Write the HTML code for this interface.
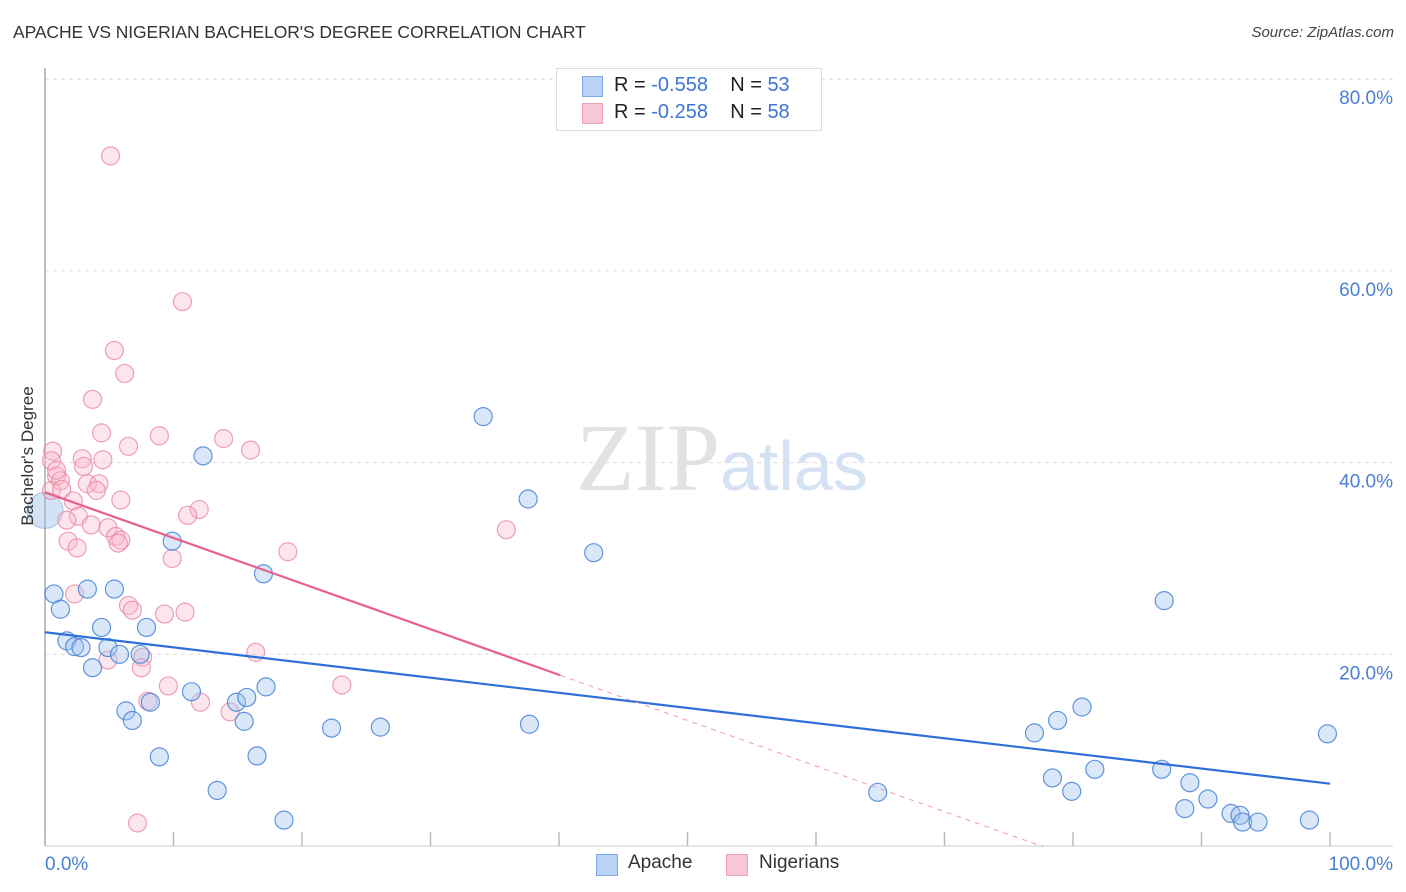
<!DOCTYPE html>
<html><head><meta charset="utf-8"><style>
body{margin:0;background:#fff;font-family:"Liberation Sans",sans-serif;}
#wrap{position:relative;width:1406px;height:892px;overflow:hidden;}
.t{position:absolute;white-space:nowrap;}
</style></head><body><div id="wrap">
<div class="t" style="left:13px;top:22px;font-size:17.5px;color:#333;letter-spacing:-0.1px">APACHE VS NIGERIAN BACHELOR'S DEGREE CORRELATION CHART</div>
<div class="t" style="right:12px;top:24px;font-size:15px;color:#444;font-style:italic">Source: ZipAtlas.com</div>
<svg id="svg" width="1406" height="892" style="position:absolute;left:0;top:0">
<text x="720" y="490" text-anchor="end" font-family="Liberation Serif" font-size="96" fill="#e2e2e2">ZIP</text>
<text x="720" y="490" font-family="Liberation Sans" font-size="70" fill="#d4e2f4">atlas</text>
</svg>
<div class="t" style="left:28px;top:456px;transform:translate(-50%,-50%) rotate(-90deg);font-size:17px;color:#333">Bachelor's Degree</div>
<div style="position:absolute;left:556px;top:68px;width:264px;height:61px;border:1px solid #ddd;background:#fff;font-size:20px">
<div style="position:absolute;left:25px;top:7px;width:19px;height:19px;background:#b8d3f6;border:1px solid #7ea8e6"></div>
<div class="t" style="left:57px;top:5px;color:#222">R = <span style="color:#3b74d6">-0.558</span>&nbsp;&nbsp;&nbsp; N = <span style="color:#3b74d6">53</span></div>
<div style="position:absolute;left:25px;top:34px;width:19px;height:19px;background:#f9c7d6;border:1px solid #eaa0b8"></div>
<div class="t" style="left:57px;top:32px;color:#222">R = <span style="color:#3b74d6">-0.258</span>&nbsp;&nbsp;&nbsp; N = <span style="color:#3b74d6">58</span></div>
</div>
<div style="position:absolute;left:596px;top:852px;font-size:19px;color:#333">
<div style="position:absolute;left:0;top:2px;width:20px;height:20px;background:#b8d3f6;border:1px solid #7ea8e6"></div>
<div class="t" style="left:32px;top:0">Apache</div>
<div style="position:absolute;left:130px;top:2px;width:20px;height:20px;background:#f9c7d6;border:1px solid #eaa0b8"></div>
<div class="t" style="left:163px;top:0">Nigerians</div>
</div>
</div>
<script>
const yTicks=[20,40,60,80];
const yTickLabels=["20.0%","40.0%","60.0%","80.0%"];
const xTickLabels=["0.0%","100.0%"];
const apacheX=[0.7,1.2,3.3,1.7,2.3,2.8,3.7,4.4,4.9,5.4,5.8,6.3,6.8,7.4,7.9,8.2,8.9,9.9,11.4,12.3,13.4,14.9,15.5,15.7,16.5,17.0,17.2,18.6,22.3,26.1,34.1,37.6,37.7,42.7,64.8,77.0,78.4,78.8,79.9,80.7,81.7,87.1,86.9,88.7,89.1,90.5,92.3,93.0,93.2,94.4,98.4,99.8];
const apacheY=[26.3,24.7,26.8,21.4,20.8,20.7,18.6,22.8,20.7,26.8,20.0,14.1,13.1,20.0,22.8,15.0,9.3,31.8,16.1,40.7,5.8,15.0,13.0,15.5,9.4,28.4,16.6,2.7,12.3,12.4,44.8,36.2,12.7,30.6,5.6,11.8,7.1,13.1,5.7,14.5,8.0,25.6,8.0,3.9,6.6,4.9,3.4,3.2,2.5,2.5,2.7,11.7];
const nigX=[5.1,10.7,5.4,6.2,3.7,4.4,6.5,8.9,13.9,16.0,0.6,0.5,2.9,4.5,3.0,0.9,1.2,3.3,4.2,4.0,0.5,1.3,2.2,5.9,12.0,11.1,2.6,1.7,3.6,4.9,5.5,5.9,5.7,1.8,2.5,9.9,18.9,35.9,2.3,6.5,6.8,9.3,10.9,16.4,7.6,4.9,7.5,9.6,23.1,8.0,12.1,14.4,7.2,0.9];
const nigY=[72.0,56.8,51.7,49.3,46.6,43.1,41.7,42.8,42.5,41.3,41.2,40.2,40.4,40.3,39.6,38.6,38.1,37.8,37.8,37.1,37.1,37.2,36.0,36.1,35.1,34.5,34.4,34.0,33.5,33.2,32.3,31.9,31.6,31.8,31.1,30.0,30.7,33.0,26.3,25.1,24.6,24.2,24.4,20.2,19.7,19.4,18.6,16.7,16.8,15.1,15.0,14.0,2.4,39.2];
const apacheTrend=[22.3,6.5];
const nigTrend=[36.9,-0.476];
const nigSolidEnd=40.1, nigDashEnd=77.7;
const X0=45,X1=1330,Y0=846,PER=9.585;
const sx=v=>X0+(X1-X0)*v/100, sy=v=>Y0-v*PER;
const svg=document.getElementById('svg');const NS='http://www.w3.org/2000/svg';
function mk(tag,attrs){const e=document.createElementNS(NS,tag);for(const k in attrs)e.setAttribute(k,attrs[k]);svg.appendChild(e);return e;}
yTicks.forEach((t,i)=>{
 const g=mk('line',{x1:X0,x2:1393,y1:sy(t),y2:sy(t),stroke:'#ddd','stroke-dasharray':'4,4'});
 
 
 const l=mk('text',{x:1393,y:sy(t)+25,'text-anchor':'end','font-size':19,fill:'#4a7fd6'});l.textContent=yTickLabels[i];
 
 
});
const ax=mk('line',{x1:X0,x2:X0,y1:68,y2:Y0,stroke:'#aaa','stroke-width':1.5});


const bx=mk('line',{x1:X0,x2:X1+63,y1:Y0,y2:Y0,stroke:'#ccc'});


for(let i=0;i<=10;i++){const tk=mk('line',{x1:sx(i*10),x2:sx(i*10),y1:832,y2:Y0,stroke:'#bbb','stroke-width':1.5});
 
 }
[[0,'start',X0],[100,'end',1393]].forEach((a,i)=>{const l=mk('text',{x:a[2],y:870,'text-anchor':a[1],'font-size':19,fill:'#4a7fd6'});l.textContent=xTickLabels[i];
 
 });
function dot(x,y,fill,stroke,name){const c=mk('circle',{cx:sx(x),cy:sy(y),r:9,fill:fill,stroke:stroke,'stroke-width':1.2});
 
 }
const bg=mk('circle',{cx:sx(0),cy:sy(35),r:18,fill:'rgba(160,190,235,0.45)',stroke:'rgba(100,150,220,0.5)'});


nigX.forEach((x,i)=>dot(x,nigY[i],'rgba(248,180,200,0.35)','rgba(232,130,160,0.75)','nigerians-point'));
apacheX.forEach((x,i)=>dot(x,apacheY[i],'rgba(160,195,240,0.4)','rgba(70,130,215,0.85)','apache-point'));
const at=mk('line',{x1:sx(0),y1:sy(apacheTrend[0]),x2:sx(100),y2:sy(apacheTrend[1]),stroke:'#2f6fd8','stroke-width':2.2});


const nf=v=>nigTrend[0]+nigTrend[1]*v;
const nt=mk('line',{x1:sx(0),y1:sy(nf(0)),x2:sx(nigSolidEnd),y2:sy(nf(nigSolidEnd)),stroke:'#e8608a','stroke-width':2.2});


const nd=mk('line',{x1:sx(nigSolidEnd),y1:sy(nf(nigSolidEnd)),x2:sx(nigDashEnd),y2:sy(nf(nigDashEnd)),stroke:'#ee9ab3','stroke-width':1,'stroke-dasharray':'5,5'});


</script>
</body></html>
